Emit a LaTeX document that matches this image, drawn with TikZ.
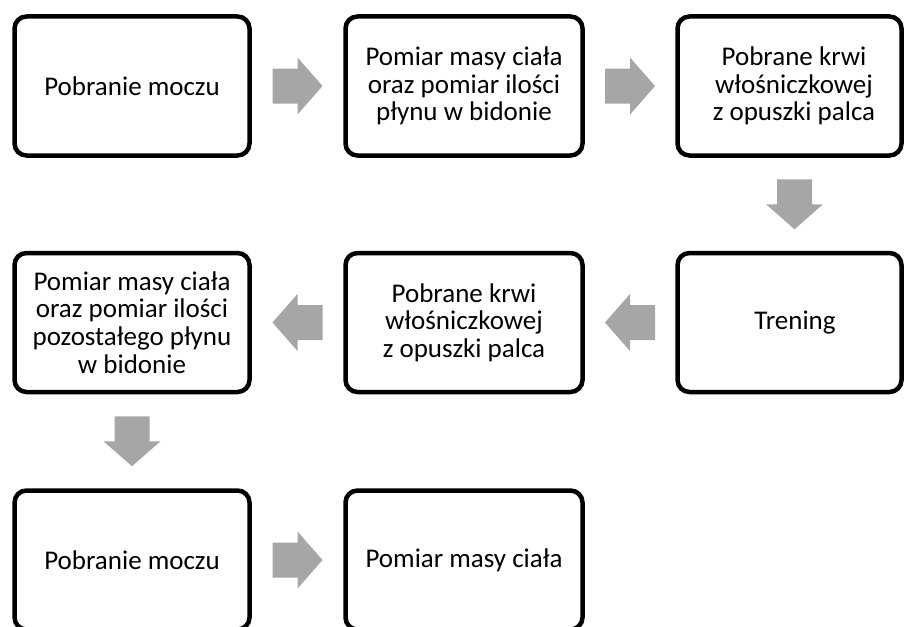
\documentclass[tikz,border=0pt]{standalone}
\usepackage{fontspec}
\setmainfont{Carlito}
\usetikzlibrary{calc}
\definecolor{arrowgray}{RGB}{166,166,166}
\begin{document}
\begin{tikzpicture}[x=1pt,y=-1pt,
  box/.style={draw=black, line width=4.5pt, rounded corners=12pt, minimum height=139pt, inner sep=0pt},
  boxtext/.style={align=center, font=\fontsize{27}{27.6}\selectfont, inner sep=0pt},
  flowarrow/.pic={\fill[arrowgray] (-25,-17.5) -- (0,-17.5) -- (0,-28.5) -- (25,0) -- (0,28.5) -- (0,17.5) -- (-25,17.5) -- cycle;}
]
\useasboundingbox (0,0) rectangle (904,626);
% row 1
\node[box, minimum width=235pt] (b1) at (132,86) {};
\node[boxtext] (t1) at (b1.center) {Pobranie moczu};
\node[box, minimum width=237pt] (b2) at (464,86) {};
\node[boxtext] (t2) at (b2.center) {Pomiar masy ciała\\oraz pomiar ilości\\płynu w bidonie};
\node[box, minimum width=224pt] (b3) at (789.5,86) {};
\node[boxtext] (t3) at (794,86) {Pobrane krwi\\włośniczkowej\\z opuszki palca};
% row 2
\node[box, minimum width=224pt] (b4) at (789.5,322.5) {};
\node[boxtext] (t4) at (795,322.5) {Trening};
\node[box, minimum width=237pt] (b5) at (464,322.5) {};
\node[boxtext] (t5) at (b5.center) {Pobrane krwi\\włośniczkowej\\z opuszki palca};
\node[box, minimum width=235pt] (b6) at (132,322.5) {};
\node[boxtext] (t6) at (b6.center) {Pomiar masy ciała\\oraz pomiar ilości\\pozostałego płynu\\w bidonie};
% row 3
\node[box, minimum width=235pt] (b7) at (132,560) {};
\node[boxtext] (t7) at (b7.center) {Pobranie moczu};
\node[box, minimum width=237pt] (b8) at (464,560) {};
\node[boxtext] (t8) at (b8.center) {Pomiar masy ciała};
% arrows
\pic at ($(b1.east)!0.5!(b2.west)$) {flowarrow};
\pic at ($(b2.east)!0.5!(b3.west)$) {flowarrow};
\pic[rotate=-90] at ($(t3 |- b3.south)!0.5!(t4 |- b4.north)$) {flowarrow};
\pic[rotate=180] at ($(b5.east)!0.5!(b4.west)$) {flowarrow};
\pic[rotate=180] at ($(b6.east)!0.5!(b5.west)$) {flowarrow};
\pic[rotate=-90] at ($(b6.south)!0.5!(b7.north)$) {flowarrow};
\pic at ($(b7.east)!0.5!(b8.west)$) {flowarrow};
\end{tikzpicture}
\end{document}
